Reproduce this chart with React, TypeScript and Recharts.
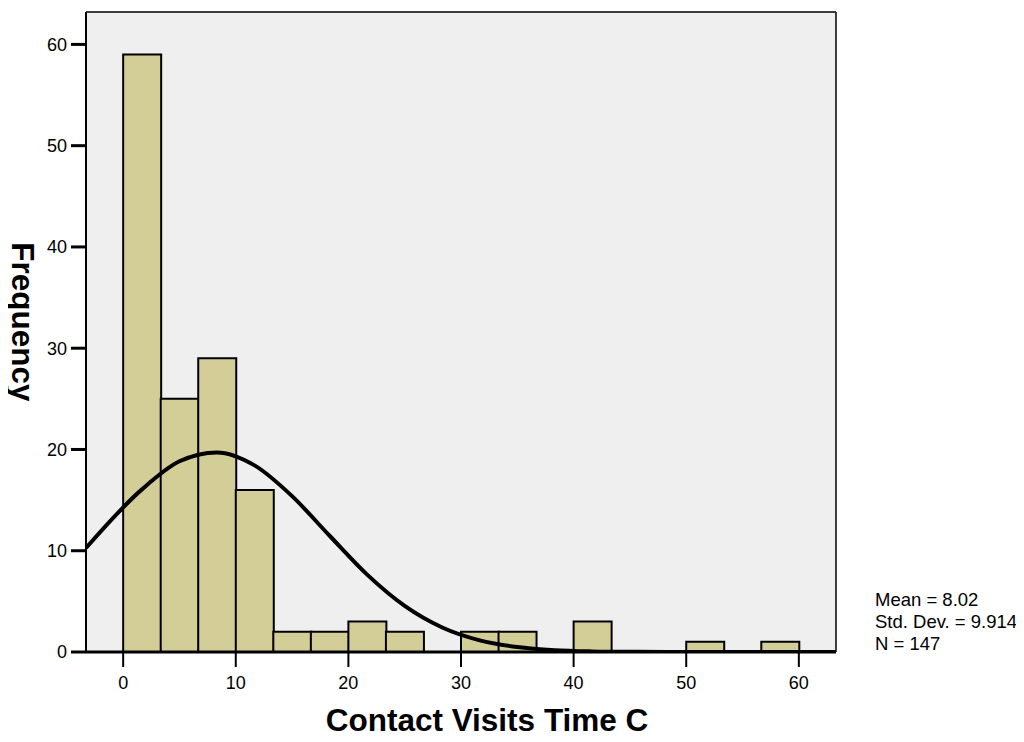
import {
  ComposedChart,
  Bar,
  Line,
  XAxis,
  YAxis,
  CartesianGrid,
  ReferenceLine,
  Label,
} from "recharts";

// bin midpoints (bin width 3.33), with the plot edges added so the fitted curve spans the frame
const xValues = [
  -3.3, 1.667, 5, 8.333, 11.667, 15, 18.333, 21.667, 25, 28.333, 31.667, 35,
  38.333, 41.667, 45, 48.333, 51.667, 55, 58.333, 63.3,
];
const frequencies = [
  null, 59, 25, 29, 16, 2, 2, 3, 2, null, 2, 2, null, 3, null, null, 1, null,
  1, null,
];
const normalFit = [
  10.27, 16.06, 18.83, 19.71, 18.43, 15.39, 11.48, 7.64, 4.55, 2.42, 1.15,
  0.49, 0.18, 0.06, 0.02, 0.01, 0, 0, 0, 0,
];
const xTicks = [0, 10, 20, 30, 40, 50, 60];
const yTicks = [0, 10, 20, 30, 40, 50, 60];
const stats = ["Mean = 8.02", "Std. Dev. = 9.914", "N = 147"];

const X_MIN = -3.3;
const X_MAX = 63.3;
const Y_MAX = 63.2;

const font = "Arial, 'Liberation Sans', Helvetica, sans-serif";
const tickStyle = { fill: "#000", fontSize: 18, fontFamily: font };

const data = xValues.map((x, i) => ({
  x,
  count: frequencies[i],
  fit: normalFit[i],
}));

const XTitle = (props: any) => {
  const { x, y, width } = props.viewBox;
  return (
    <text
      x={x + width / 2 + 26}
      y={y + 79}
      textAnchor="middle"
      fontFamily={font}
      fontWeight="bold"
      fontSize={31.5}
      fill="#000"
    >
      Contact Visits Time C
    </text>
  );
};

const YTitle = (props: any) => {
  const { x, y, height } = props.viewBox;
  const cx = x + 23;
  const cy = y + height / 2 - 10;
  return (
    <text
      x={cx}
      y={cy}
      transform={`rotate(90 ${cx} ${cy})`}
      textAnchor="middle"
      dominantBaseline="central"
      fontFamily={font}
      fontWeight="bold"
      fontSize={31.5}
      fill="#000"
    >
      Frequency
    </text>
  );
};

export default function App() {
  return (
    <div
      style={{
        position: "relative",
        width: 1024,
        height: 742,
        margin: "-8px 0 0 -8px",
      }}
    >
      <ComposedChart
        width={1024}
        height={742}
        data={data}
        margin={{ top: 12, right: 188, bottom: 0, left: 0 }}
        barCategoryGap={0}
        barGap={0}
      >
        <CartesianGrid
          horizontal={false}
          vertical={false}
          fill="#efefef"
          fillOpacity={1}
        />
        <XAxis
          dataKey="x"
          type="number"
          domain={[X_MIN, X_MAX]}
          allowDataOverflow
          ticks={xTicks}
          height={90}
          tick={tickStyle}
          tickSize={15}
          tickMargin={9}
          tickLine={{ stroke: "#000", strokeWidth: 2 }}
          axisLine={{ stroke: "#000", strokeWidth: 3 }}
        >
          <Label content={XTitle} />
        </XAxis>
        <YAxis
          type="number"
          domain={[0, Y_MAX]}
          allowDataOverflow
          ticks={yTicks}
          width={86}
          tick={tickStyle}
          tickSize={15}
          tickMargin={4}
          tickLine={{ stroke: "#000", strokeWidth: 3 }}
          axisLine={{ stroke: "#000", strokeWidth: 2 }}
        >
          <Label content={YTitle} />
        </YAxis>
        <ReferenceLine y={Y_MAX} stroke="#000" strokeWidth={1.5} />
        <ReferenceLine x={X_MAX} stroke="#000" strokeWidth={1.5} />
        <Bar
          dataKey="count"
          fill="#d3ce98"
          stroke="#000"
          strokeWidth={2}
          isAnimationActive={false}
        />
        <Line
          dataKey="fit"
          type="monotone"
          stroke="#000"
          strokeWidth={4}
          dot={false}
          activeDot={false}
          isAnimationActive={false}
        />
      </ComposedChart>
      <div
        style={{
          position: "absolute",
          left: 875,
          top: 589,
          fontFamily: font,
          fontSize: 18.5,
          lineHeight: "22px",
          color: "#000",
          whiteSpace: "nowrap",
        }}
      >
        {stats.map((s) => (
          <div key={s}>{s}</div>
        ))}
      </div>
    </div>
  );
}
